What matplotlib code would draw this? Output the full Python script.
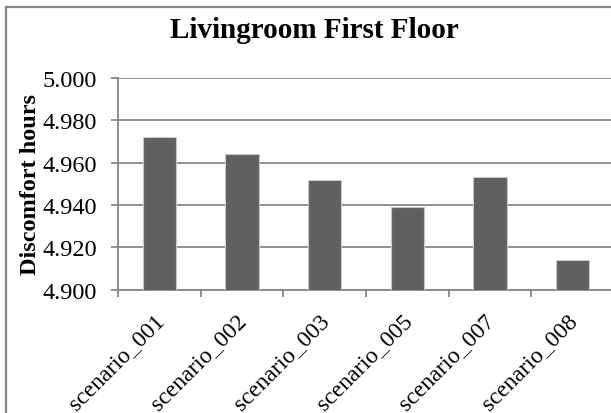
import matplotlib.pyplot as plt
from matplotlib.patches import Rectangle
from matplotlib.transforms import ScaledTranslation
import numpy as np

scenarios = ['scenario_001', 'scenario_002', 'scenario_003',
             'scenario_005', 'scenario_007', 'scenario_008']
discomfort = [4.972, 4.964, 4.952, 4.939, 4.953, 4.914]
y_ticks = [4.900, 4.920, 4.940, 4.960, 4.980, 5.000]

W, H = 611, 414
plt.rcParams['font.family'] = 'Liberation Serif'

fig = plt.figure(figsize=(W / 100, H / 100), dpi=100)

# outer chart frame
fig.patches.append(Rectangle((6 / W, -0.1), 1.2, 1 - 7.5 / H + 0.1,
                             transform=fig.transFigure, fill=False,
                             edgecolor='#878787', linewidth=1.6))

left, right = 118 / W, 614 / W
bottom, top = 1 - 290.7 / H, 1 - 79 / H
ax = fig.add_axes([left, bottom, right - left, top - bottom])

x = np.arange(len(scenarios))
ax.bar(x, discomfort, width=0.4, color='#606060', edgecolor='#c8c8c8',
       linewidth=0.8, zorder=3)

ax.set_xlim(-0.5, len(scenarios) - 0.5)
ax.set_ylim(4.900, 5.000)
ax.set_yticks(y_ticks)
ax.set_yticklabels(['%.3f' % v for v in y_ticks], fontsize=17.5)
ax.yaxis.grid(True, color='#878787', linewidth=1.3, zorder=0)

# category boundary ticks on x axis
ax.set_xticks(np.arange(len(scenarios) + 1) - 0.5)
ax.set_xticklabels([])
ax.set_xticks(x, minor=True)
ax.set_xticklabels(scenarios, minor=True, rotation=45, ha='right',
                   va='top', rotation_mode='anchor', fontsize=17)
ax.tick_params(axis='x', which='minor', length=0, pad=14)
ax.tick_params(axis='x', which='major', length=5, width=1.3, color='#878787')
ax.tick_params(axis='y', length=5, width=1.3, color='#878787', pad=10)

shift = ScaledTranslation(-6 / 100, 0, fig.dpi_scale_trans)
for lbl in ax.get_xticklabels(minor=True):
    lbl.set_transform(lbl.get_transform() + shift)

for side in ['top', 'right']:
    ax.spines[side].set_visible(False)
for side in ['left', 'bottom']:
    ax.spines[side].set_color('#878787')
    ax.spines[side].set_linewidth(1.3)

ax.set_ylabel('Discomfort hours', fontsize=17.5, fontweight='bold')
ax.yaxis.set_label_coords(-0.155, 0.5)
fig.text(314 / W, 1 - 31 / H, 'Livingroom First Floor', ha='center',
         va='center', fontsize=21, fontweight='bold')

fig.savefig('out.png', dpi=100)
